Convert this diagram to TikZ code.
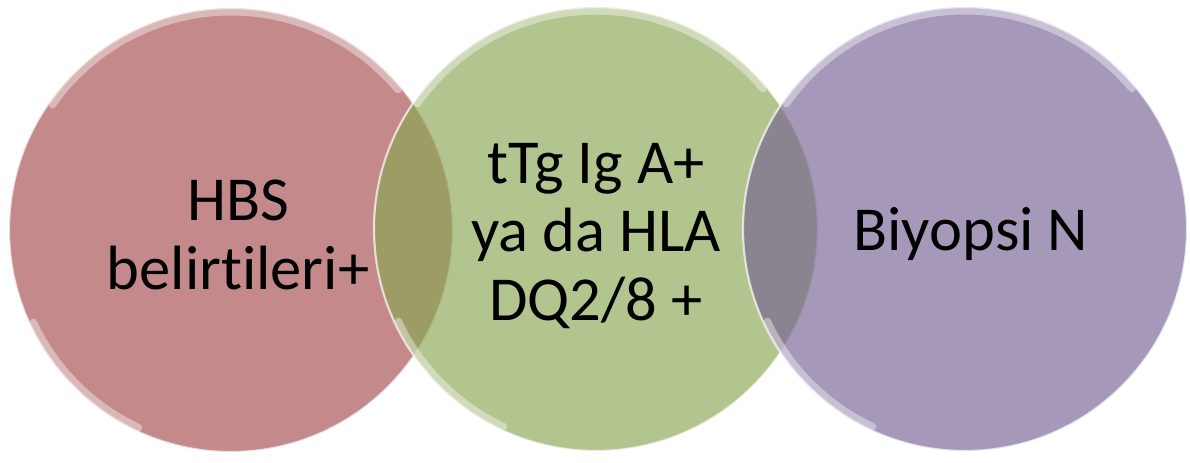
\documentclass[tikz,border=0pt]{standalone}
\usepackage{fontspec}
\setmainfont{Carlito}[Ligatures=NoCommon]
\definecolor{hbsred}{HTML}{A54A4B}
\definecolor{ttggreen}{HTML}{8AA653}
\definecolor{biyopurple}{HTML}{756192}

\begin{document}
\begin{tikzpicture}[venn/.style={circle, draw=white, line width=0.6pt, draw opacity=0.7, fill opacity=0.65, minimum size=4.44cm, inner sep=0pt}, shine/.style={white, line width=2pt, opacity=0.4, line cap=round}, venntext/.style={align=center, text=black, font=\fontsize{17.8pt}{19.6pt}\selectfont, inner sep=0pt}]
  {
  \useasboundingbox (0,0) rectangle (11.9,4.62);
  \node[venn, fill=hbsred] (hbs) at (2.31,2.32) {};
  \draw[shine] ([shift={(145:2.18)}]hbs.center) arc (145:40:2.18);
  \draw[shine] ([shift={(205:2.18)}]hbs.center) arc (205:245:2.18);
  \node[venn, fill=ttggreen] (ttg) at (5.96,2.33) {};
  \draw[shine] ([shift={(145:2.18)}]ttg.center) arc (145:40:2.18);
  \draw[shine] ([shift={(205:2.18)}]ttg.center) arc (205:245:2.18);
  \node[venn, fill=biyopurple] (biyo) at (9.65,2.33) {};
  \draw[shine] ([shift={(145:2.18)}]biyo.center) arc (145:40:2.18);
  \draw[shine] ([shift={(205:2.18)}]biyo.center) arc (205:245:2.18);

  \node[venntext] (hbslbl) at (2.38,2.275) {HBS\\belirtileri+};
  \node[venntext] (ttglbl) at (5.96,2.26) {tTg Ig A+\\ya da HLA\\DQ2/8 +};
  \node[venntext] (biyolbl) at (9.71,2.28) {Biyopsi N};
  }
\end{tikzpicture}
\end{document}
